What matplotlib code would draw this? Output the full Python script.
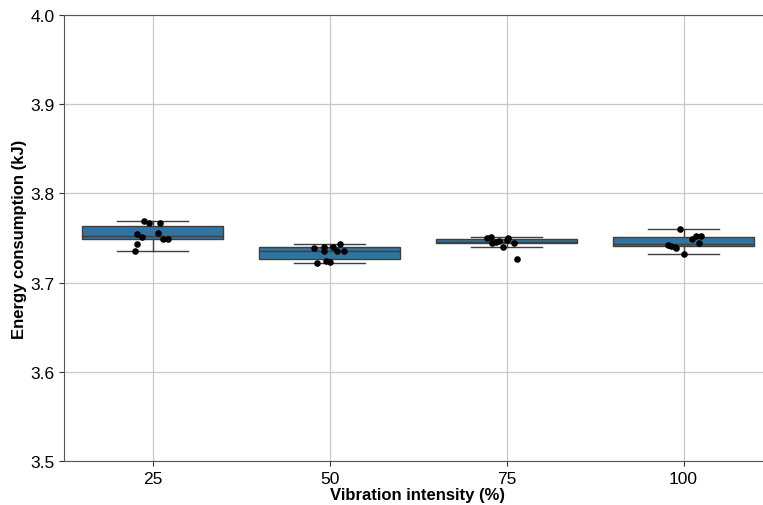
import matplotlib.pyplot as plt
import numpy as np

plt.rcParams['font.family'] = ['Liberation Sans', 'DejaVu Sans']

# data
intensity = ['25', '50', '75', '100']
energy_25 = [3.769, 3.7668, 3.7668, 3.7541, 3.7515, 3.7556, 3.7492, 3.7492, 3.7436, 3.7358]
energy_50 = [3.7384, 3.7402, 3.735, 3.7402, 3.735, 3.7436, 3.7358, 3.7216, 3.724, 3.7234]
energy_75 = [3.7496, 3.7514, 3.7444, 3.7466, 3.7496, 3.7444, 3.7396, 3.7262, 3.7455, 3.748]
energy_100 = [3.7598, 3.7422, 3.7415, 3.7402, 3.7384, 3.7318, 3.7485, 3.752, 3.7522, 3.7444]
# horizontal jitter of the dots (in category units)
jitter_25 = [-0.05, -0.02, 0.04, -0.09, -0.06, 0.03, 0.06, 0.09, -0.09, -0.10]
jitter_50 = [-0.09, -0.03, -0.03, 0.02, 0.04, 0.06, 0.08, -0.07, -0.02, 0.0]
jitter_75 = [-0.11, -0.09, -0.08, -0.04, 0.01, 0.04, -0.02, 0.06, -0.06, 0.0]
jitter_100 = [-0.02, -0.09, -0.07, -0.05, -0.04, 0.0, 0.05, 0.07, 0.10, 0.09]

groups = [energy_25, energy_50, energy_75, energy_100]
jitters = [jitter_25, jitter_50, jitter_75, jitter_100]

fig = plt.figure(figsize=(7.63, 5.06), dpi=100)
ax = fig.add_axes([64 / 763, 44 / 506, 708 / 763, 446 / 506])

pos = np.arange(len(groups))
ax.boxplot(groups, positions=pos, widths=0.8, patch_artist=True, showfliers=False,
           boxprops=dict(facecolor='#3274a1', edgecolor='#3f3f3f', linewidth=1),
           medianprops=dict(color='#3f3f3f', linewidth=1),
           whiskerprops=dict(color='#3f3f3f', linewidth=1),
           capprops=dict(color='#3f3f3f', linewidth=1), zorder=2)

for i, (vals, jit) in enumerate(zip(groups, jitters)):
    ax.scatter(i + np.array(jit), vals, s=14, color='black', zorder=3)

ax.set_xlim(-0.5, 3.5)
ax.set_ylim(3.5, 4.0)
ax.set_yticks([3.5, 3.6, 3.7, 3.8, 3.9, 4.0])
ax.set_xticks(pos)
ax.set_xticklabels(intensity)
ax.tick_params(labelsize=12.5, colors='#333333', labelcolor='black')
ax.grid(True, color='#c8c8c8', linewidth=0.9, zorder=0)
ax.set_axisbelow(True)
for s in ax.spines.values():
    s.set_color('#555555')
ax.spines['right'].set_visible(False)

ax.set_xlabel('Vibration intensity (%)', fontsize=12, fontweight='bold', labelpad=1)
ax.set_ylabel('Energy consumption (kJ)', fontsize=12, fontweight='bold', labelpad=2)

plt.savefig('out.png')
